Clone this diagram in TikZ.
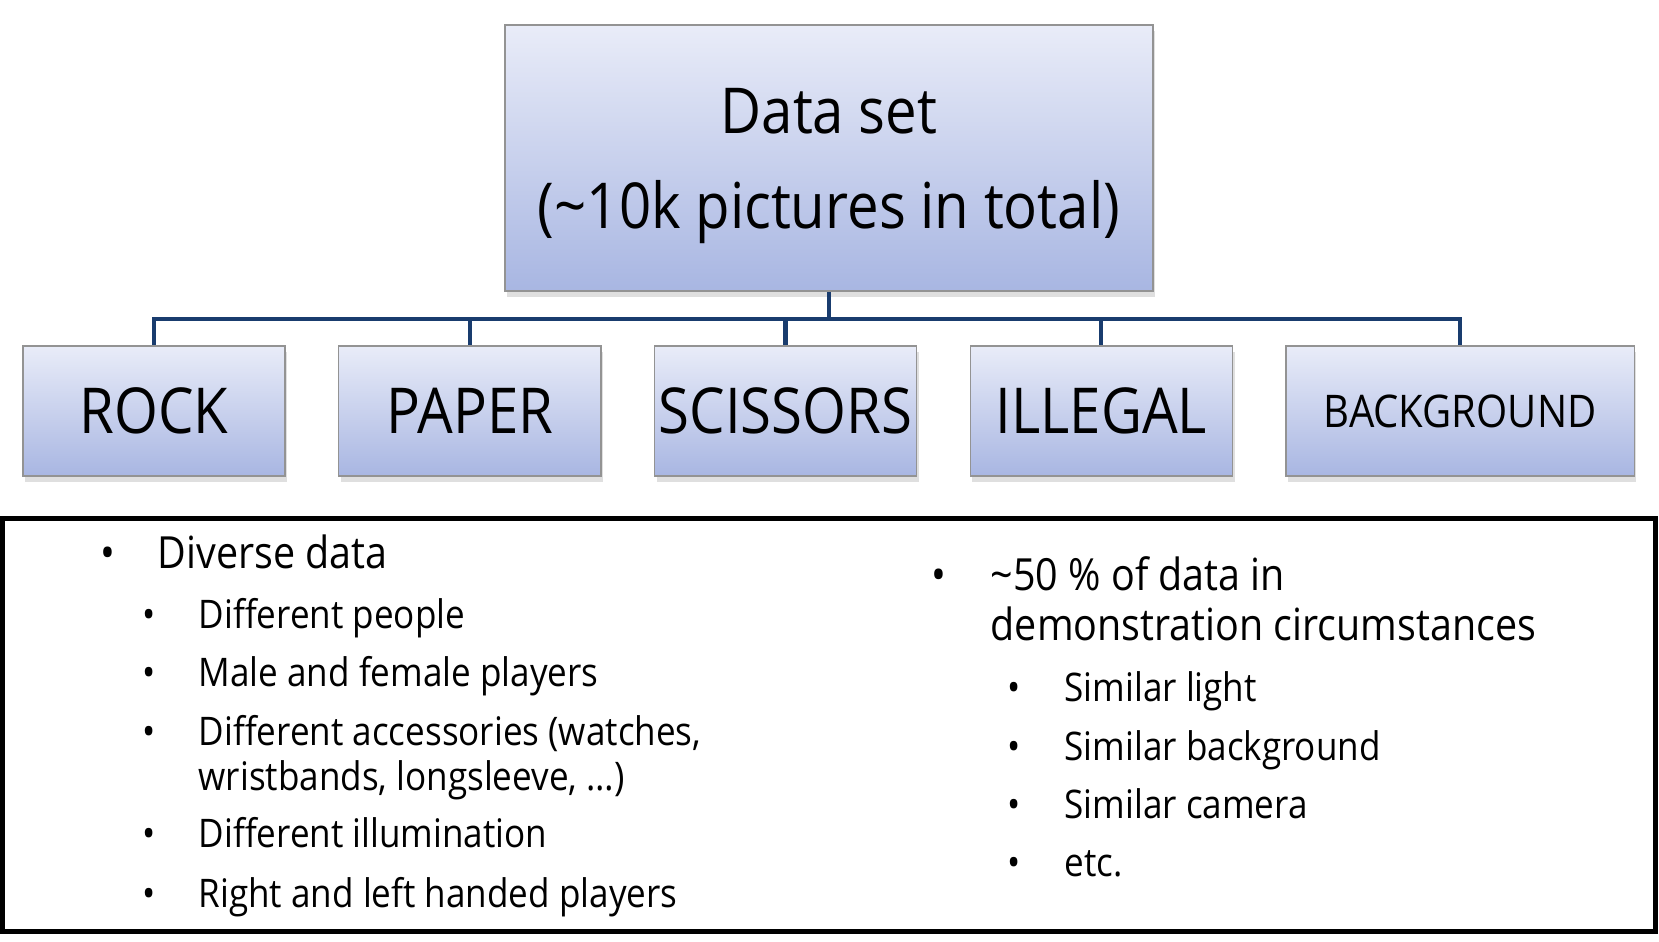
\documentclass[tikz,border=0pt]{standalone}
\usepackage{fontspec}
\setmainfont{Open Sans}[FakeStretch=0.89]
\usetikzlibrary{positioning,shadows,calc}
\definecolor{busblue}{RGB}{25,60,110}
\definecolor{boxtop}{RGB}{233,236,248}
\definecolor{boxbot}{RGB}{168,182,226}
\tikzset{cat node/.style={rectangle,draw=gray!85,top color=boxtop,bottom color=boxbot,
    minimum width=2.62cm,minimum height=1.30cm,inner sep=0pt,font=\fontsize{18}{27}\selectfont,
    drop shadow={shadow xshift=0.6pt,shadow yshift=-1.6pt,opacity=0.25}},
  link/.style={draw=busblue,line width=1.2pt},
}
\tikzstyle{item}=[anchor=base west,inner sep=0pt,font=\fontsize{12.6}{16}\selectfont]
\tikzstyle{subitem}=[anchor=base west,inner sep=0pt,font=\fontsize{11.2}{14}\selectfont]

\begin{document}
\begin{tikzpicture}[x=0.01cm,y=-0.01cm]
	\useasboundingbox (0,0) rectangle (1659,942);
	% root box
	\node[cat node,minimum width=6.48cm,minimum height=2.66cm] (data) at (829,158) {};
	\node[align=center,font=\fontsize{18}{27}\selectfont] (datatxt) at ($(data.center)+(0,8)$)
		{Data set\\(\textasciitilde10k pictures in total)};
	% classes
	\node[cat node] (rock) at (154,411) {ROCK};
	\node[cat node] (paper) [right = 0.522cm of rock] {PAPER};
	\node[cat node] (scissors) [right = 0.522cm of paper] {SCISSORS};
	\node[cat node] (illegal) [right = 0.522cm of scissors] {ILLEGAL};
	\node[cat node,minimum width=3.48cm,font=\fontsize{12.8}{15}\selectfont] (bg) [right = 0.522cm of illegal] {BACKGROUND};
	
	\coordinate (bus) at ($(data.south)+(0,27)$);
	\path[link] (data.south) -- (bus);
	\foreach \c in {rock,paper,scissors,illegal,bg}
		\path[link] (bus) -| (\c.north);
	
	% notes
	\node[draw,line width=1.3pt,minimum width=16.52cm,minimum height=4.13cm] (notes) at (829,725) {};
	
	\node[item] (b1) at (100,568) {\textbullet};
	\node[item] (t1) at (157,568) {Diverse data};
	\foreach \y/\txt in {628/Different people,686/Male and female players,745/{Different accessories (watches,},847/Different illumination,907/Right and left handed players}{
		\node[subitem] at (142,\y) {\textbullet};
		\node[subitem] at (198,\y) {\txt};
	}
	\node[subitem] (t1c) at (198,790) {wristbands, longsleeve, \dots)};
	
	\node[item] (b2) at (931,590) {\textbullet};
	\node[item] (t2) at (990,590) {\textasciitilde50 \% of data in};
	\node[item] (t2b) at (990,640) {demonstration circumstances};
	\foreach \y/\txt in {701/Similar light,760/Similar background,818/Similar camera,876/etc.}{
		\node[subitem] at (1007,\y) {\textbullet};
		\node[subitem] at (1064,\y) {\txt};
	}
\end{tikzpicture}
\end{document}
